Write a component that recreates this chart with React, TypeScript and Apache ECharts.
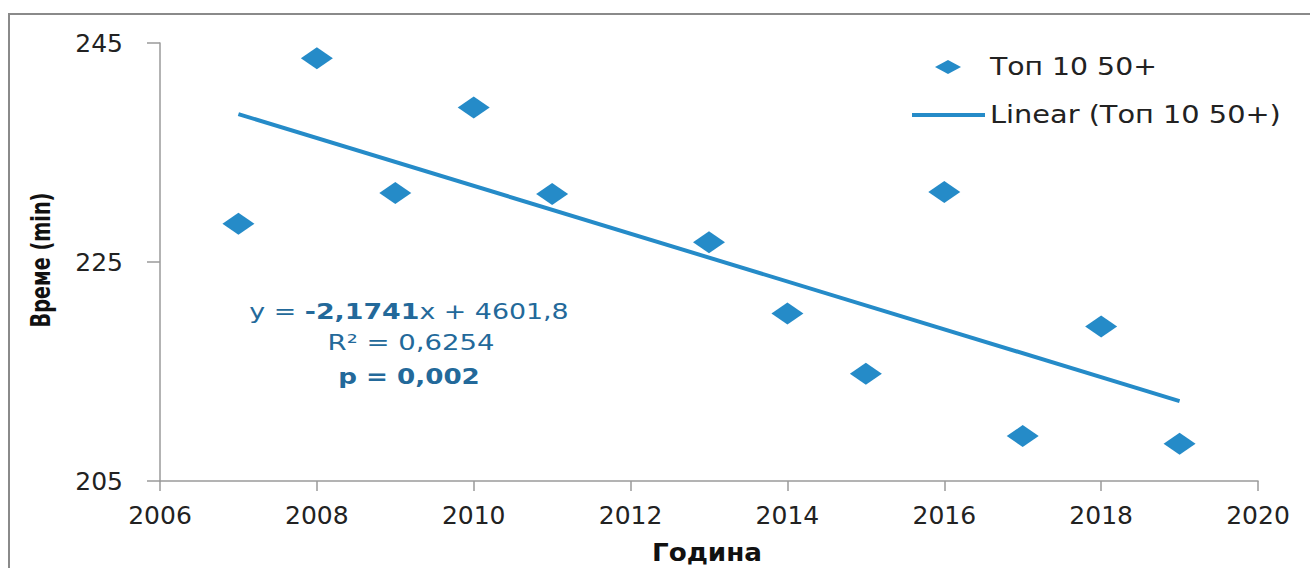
import React, { useEffect, useRef } from "react";
import * as echarts from "echarts";

const years = [2007, 2008, 2009, 2010, 2011, 2013, 2014, 2015, 2016, 2017, 2018, 2019];
const times = [228.5, 243.6, 231.3, 239.1, 231.2, 226.8, 220.3, 214.8, 231.4, 209.1, 219.1, 208.4];

const trendYears = [2007, 2019];
const trendValues = [238.5, 212.3];

const seriesName = "Топ 10 50+";
const trendName = "Linear (Топ 10 50+)";
const xAxisName = "Година";
const yAxisName = "Време (min)";
const eqLines = ["y = ", "-2,1741", "x + 4601,8", "R² = 0,6254", "p = 0,002"];

const MARK = "#258BC8";
const ANNOT = "#23699A";
const FONT = "DejaVu Sans";

export default function App() {
  const ref = useRef<HTMLDivElement>(null);
  useEffect(() => {
    if (!ref.current) return;
    const chart = echarts.init(ref.current, null, { renderer: "svg" });
    chart.setOption({
      animation: false,
      backgroundColor: "#fff",
      textStyle: { fontFamily: FONT },
      grid: { left: 160, right: 52, top: 43, bottom: 87, containLabel: false },
      xAxis: {
        type: "value",
        min: 2006,
        max: 2020,
        interval: 2,
        axisLine: { show: true, lineStyle: { color: "#9a9a9a", width: 1.5 } },
        axisTick: { show: true, length: 10, lineStyle: { color: "#9a9a9a", width: 1.5 } },
        axisLabel: {
          margin: 22,
          fontFamily: FONT,
          fontSize: 25,
          color: "#222",
          formatter: (v: number) => String(v),
        },
        splitLine: { show: false },
      },
      yAxis: {
        type: "value",
        min: 205,
        max: 245,
        interval: 20,
        axisLine: { show: true, lineStyle: { color: "#9a9a9a", width: 1.5 } },
        axisTick: { show: true, length: 13, lineStyle: { color: "#9a9a9a", width: 1.5 } },
        axisLabel: {
          margin: 37,
          fontFamily: FONT,
          fontSize: 25,
          color: "#222",
        },
        splitLine: { show: false },
      },
      series: [
        {
          name: trendName,
          type: "line",
          data: trendYears.map((y, i) => [y, trendValues[i]]),
          symbol: "none",
          lineStyle: { color: MARK, width: 4 },
          z: 2,
        },
        {
          name: seriesName,
          type: "scatter",
          data: years.map((y, i) => [y, times[i]]),
          symbol: "diamond",
          symbolSize: [32, 22],
          itemStyle: { color: MARK, opacity: 1 },
          z: 3,
        },
      ],
      graphic: [
        {
          type: "rect",
          silent: true,
          z: -10,
          shape: { x: 9, y: 14, width: 1400, height: 700 },
          style: { fill: "none", stroke: "#8a8a8a", lineWidth: 2 },
        },
        {
          type: "text",
          x: 41,
          y: 260,
          rotation: Math.PI / 2,
          scaleX: 0.74,
          style: {
            text: yAxisName,
            fontFamily: FONT,
            fontSize: 26,
            fontWeight: "bold",
            fill: "#111",
            align: "center",
            verticalAlign: "middle",
          },
        },
        {
          type: "text",
          x: 707,
          y: 552,
          scaleX: 1.05,
          style: {
            text: xAxisName,
            fontFamily: FONT,
            fontSize: 25,
            fontWeight: "bold",
            fill: "#111",
            align: "center",
            verticalAlign: "middle",
          },
        },
        {
          type: "polygon",
          shape: { points: [[935, 67], [948, 60], [961, 67], [948, 74]] },
          style: { fill: MARK },
        },
        {
          type: "text",
          x: 990,
          y: 67,
          scaleX: 1.18,
          style: {
            text: seriesName,
            fontFamily: FONT,
            fontSize: 24,
            fill: "#222",
            verticalAlign: "middle",
            align: "left",
          },
        },
        {
          type: "line",
          shape: { x1: 912, y1: 115, x2: 985, y2: 115 },
          style: { stroke: MARK, lineWidth: 4 },
        },
        {
          type: "text",
          x: 990,
          y: 114,
          scaleX: 1.2,
          style: {
            text: trendName,
            fontFamily: FONT,
            fontSize: 24,
            fill: "#222",
            verticalAlign: "middle",
            align: "left",
          },
        },
        {
          type: "text",
          x: 409,
          y: 311,
          scaleX: 1.22,
          style: {
            text: `{n|${eqLines[0]}}{b|${eqLines[1]}}{n|${eqLines[2]}}`,
            align: "center",
            verticalAlign: "middle",
            rich: {
              n: { fontFamily: FONT, fontSize: 22, fill: ANNOT, color: ANNOT },
              b: { fontFamily: FONT, fontSize: 22, fontWeight: "bold", fill: ANNOT, color: ANNOT },
            },
          },
        },
        {
          type: "text",
          x: 411,
          y: 342,
          scaleX: 1.25,
          style: {
            text: eqLines[3],
            fontFamily: FONT,
            fontSize: 22,
            fill: ANNOT,
            align: "center",
            verticalAlign: "middle",
          },
        },
        {
          type: "text",
          x: 409,
          y: 377,
          scaleX: 1.19,
          style: {
            text: eqLines[4],
            fontFamily: FONT,
            fontSize: 22,
            fontWeight: "bold",
            fill: ANNOT,
            align: "center",
            verticalAlign: "middle",
          },
        },
      ],
    });
    return () => chart.dispose();
  }, []);
  return (
    <div
      ref={ref}
      style={{ position: "fixed", left: 0, top: 0, width: 1310, height: 568 }}
    />
  );
}
